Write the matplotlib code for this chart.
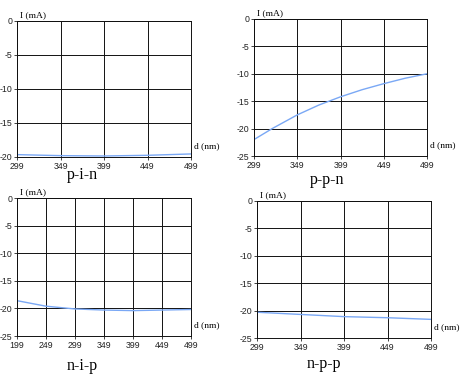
import matplotlib
matplotlib.use("Agg")
import matplotlib.pyplot as plt

# data
pin_d = [299, 349, 399, 449, 499]
pin_i = [-19.65, -19.8, -19.85, -19.75, -19.55]

ppn_d = [299, 320, 349, 374, 399, 424, 449, 474, 499]
ppn_i = [-22.0, -20.0, -17.5, -15.7, -14.2, -12.9, -11.8, -10.8, -10.0]

nip_d = [199, 249, 299, 349, 399, 449, 499]
nip_i = [-18.6, -19.6, -20.1, -20.3, -20.4, -20.3, -20.2]

npp_d = [299, 349, 399, 449, 499]
npp_i = [-20.3, -20.7, -21.1, -21.3, -21.6]

W, H = 465, 374
fig = plt.figure(figsize=(W / 100, H / 100), dpi=100)
fig.patch.set_facecolor("white")

line_color = "#7aa8f5"


def panel(box, d, i, xticks, yticks, label, label_xy):
    left, top, right, bottom = box
    ax = fig.add_axes([left / W, (H - bottom) / H, (right - left) / W, (bottom - top) / H])
    ax.plot(d, i, color=line_color, lw=1.0)
    ax.set_xlim(xticks[0], xticks[-1])
    ax.set_ylim(yticks[0], yticks[-1])
    ax.set_xticks(xticks)
    ax.set_yticks(yticks)
    ax.set_xticklabels([str(v) for v in xticks], fontsize=6.3, family="Liberation Sans")
    ax.set_yticklabels([str(v) for v in yticks], fontsize=6.3, family="Liberation Sans")
    ax.tick_params(length=2.5, width=0.6, pad=1.0, colors="#222222")
    ax.grid(True, color="#111111", lw=0.7)
    for s in ax.spines.values():
        s.set_color("#111111")
        s.set_linewidth(0.7)
    ax.text(0.02, 1.01, "I (mA)", transform=ax.transAxes, fontsize=6.8,
            family="Liberation Serif", ha="left", va="bottom")
    ax.text(1.02, 0.08, "d (nm)", transform=ax.transAxes, fontsize=6.8,
            family="Liberation Serif", ha="left", va="center")
    fig.text(label_xy[0] / W, 1 - label_xy[1] / H, label, fontsize=11.5,
             family="Liberation Serif", ha="center", va="center")
    return ax


panel((17, 21, 191, 157), pin_d, pin_i, [299, 349, 399, 449, 499],
      [-20, -15, -10, -5, 0], "p-i-n", (82, 175))
panel((254, 19, 427, 156), ppn_d, ppn_i, [299, 349, 399, 449, 499],
      [-25, -20, -15, -10, -5, 0], "p-p-n", (327, 180))
panel((17, 198, 191, 336), nip_d, nip_i, [199, 249, 299, 349, 399, 449, 499],
      [-25, -20, -15, -10, -5, 0], "n-i-p", (82, 366))
panel((257, 201, 431, 338), npp_d, npp_i, [299, 349, 399, 449, 499],
      [-25, -20, -15, -10, -5, 0], "n-p-p", (324, 364))

fig.savefig("out.png", dpi=100, facecolor="white")
